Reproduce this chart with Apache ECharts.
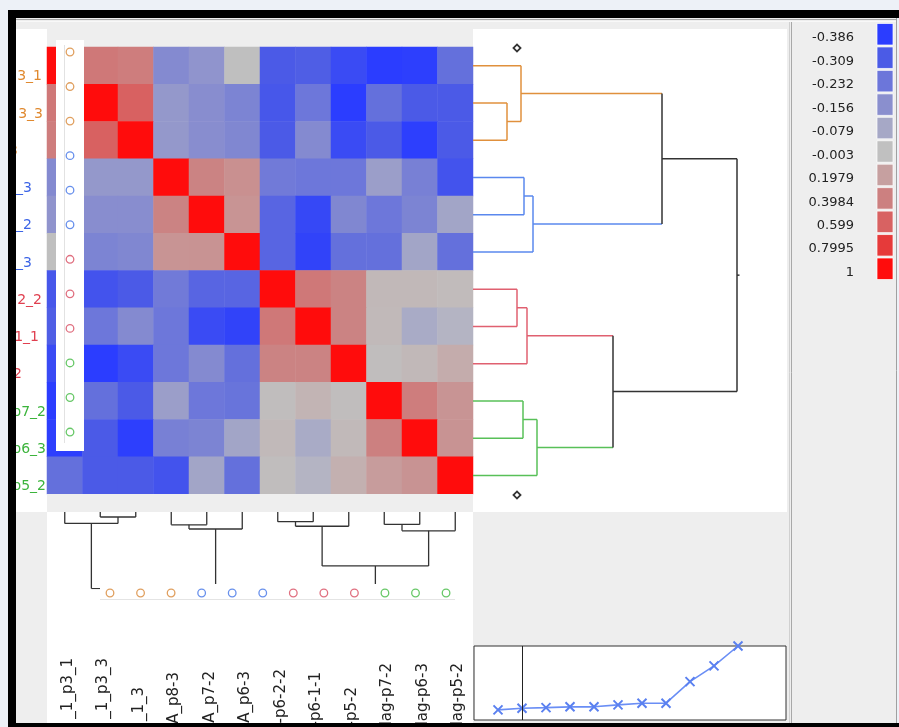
<!DOCTYPE html>
<html><head><meta charset="utf-8">
<script src="https://cdn.jsdelivr.net/npm/echarts@6/dist/echarts.min.js"></script>
<style>html,body{margin:0;padding:0;background:#edf1f7;overflow:hidden}#c{width:899px;height:727px}</style>
</head><body><div id="c"></div>
<script>
// ---- data ----
const rowLabels = ['3_1','3_3','3','_3','_2','_3','2_2','1_1','2','p7_2','p6_3','p5_2'];
const colLabels = ['_1_p3_1','_1_p3_3','_1_3','A_p8-3','A_p7-2','A_p6-3','-p6-2-2','-p6-1-1','-p5-2','lag-p7-2','lag-p6-3','lag-p5-2'];
const clusterOf = [0,0,0,1,1,1,2,2,2,3,3,3];
const corr = [
  [1, 0.45, 0.42, -0.17, -0.14, 0.0, -0.31, -0.30, -0.35, -0.386, -0.38, -0.25],
  [0.45, 1, 0.60, -0.13, -0.16, -0.19, -0.32, -0.23, -0.386, -0.25, -0.31, -0.31],
  [0.42, 0.60, 1, -0.13, -0.16, -0.18, -0.31, -0.17, -0.35, -0.31, -0.38, -0.31],
  [-0.17, -0.13, -0.13, 1, 0.38, 0.30, -0.22, -0.23, -0.23, -0.11, -0.20, -0.33],
  [-0.14, -0.16, -0.16, 0.38, 1, 0.27, -0.28, -0.36, -0.18, -0.23, -0.19, -0.09],
  [0.0, -0.19, -0.18, 0.27, 0.28, 1, -0.28, -0.37, -0.25, -0.25, -0.09, -0.25],
  [-0.32, -0.33, -0.31, -0.22, -0.28, -0.28, 1, 0.45, 0.38, 0.05, 0.05, 0.03],
  [-0.30, -0.23, -0.17, -0.23, -0.35, -0.37, 0.45, 1, 0.38, 0.04, -0.07, -0.04],
  [-0.35, -0.386, -0.35, -0.23, -0.17, -0.25, 0.38, 0.38, 1, 0.02, 0.05, 0.12],
  [-0.386, -0.25, -0.31, -0.11, -0.23, -0.24, 0.02, 0.07, 0.02, 1, 0.42, 0.27],
  [-0.38, -0.31, -0.38, -0.20, -0.19, -0.09, 0.04, -0.07, 0.04, 0.40, 1, 0.28],
  [-0.25, -0.31, -0.31, -0.33, -0.09, -0.25, 0.02, -0.04, 0.10, 0.22, 0.28, 1]
];
// merges: [childA, childB, height]; nodes 0-11 leaves, 12+ merges in order
const merges = [[1,2,0.34],[6,7,0.44],[0,12,0.48],[9,10,0.50],[3,4,0.51],[13,8,0.54],[16,5,0.60],[15,11,0.64],[17,19,1.40],[14,18,1.89],[21,20,2.64]];
const lineValues = [0.36, 0.42, 0.44, 0.47, 0.47, 0.54, 0.60, 0.60, 1.37, 1.93, 2.64];
const legendValues = [-0.386, -0.309, -0.232, -0.156, -0.079, -0.003, 0.1979, 0.3984, 0.599, 0.7995, 1];

// ---- styles ----
const legendColors = ['#2b3dff','#4b5be6','#6c76da','#8a8fce','#a6a8c6','#c0c0c0','#c6a0a0','#cc8080','#d86262','#e63a3a','#ff0c0c'];
const dendroPalette = ['#e0903c','#5a88ee','#e06070','#58c058','#333333'];
const circleColors = ['#e0a060','#6890ec','#e07080','#68c868'];
const labelColors = ['#e0892f','#3c64e6','#e04050','#3cb43c'];
const rowLabelRight = [42, 43, 18, 32, 32, 32, 42, 39, 22, 46, 46, 46];
const colLabelTop = [658, 658, 687, 672, 671, 671, 669, 672, 687, 663, 663, 663];
const FONT_LEG = '13px "DejaVu Sans"';
const FONT_ROW = '14px "DejaVu Sans"';
const FONT_COL = '15px "DejaVu Sans"';

// color ramp sampled from legend stops
function hex2rgb(h){return [1,3,5].map(i=>parseInt(h.substr(i,2),16));}
function rampColor(v){
  for(let i=0;i<legendValues.length-1;i++){
    if(v<=legendValues[i+1]){
      const t=Math.max(0,(v-legendValues[i])/(legendValues[i+1]-legendValues[i]));
      const a=hex2rgb(legendColors[i]), b=hex2rgb(legendColors[i+1]);
      return 'rgb('+a.map((c,k)=>Math.round(c+(b[k]-c)*t)).join(',')+')';
    }
  }
  return legendColors[legendColors.length-1];
}
const vmin = legendValues[0], vmax = legendValues[legendValues.length-1];
const ramp = [];
for(let k=0;k<=80;k++) ramp.push(rampColor(vmin+(vmax-vmin)*k/80));

// heatmap data
const heatData = [];
corr.forEach((row,r)=>row.forEach((v,c)=>heatData.push([c,r,v])));

// dendrogram nodes
const nodes = clusterOf.map((cl,i)=>({pos:i,h:0,cl:cl}));
merges.forEach(([a,b,h])=>{const A=nodes[a],B=nodes[b];nodes.push({pos:(A.pos+B.pos)/2,h:h,cl:A.cl===B.cl?A.cl:4});});
const dendroData = merges.map(([a,b,h],k)=>[nodes[a].pos,nodes[b].pos,nodes[a].h,nodes[b].h,h,nodes[a].cl,nodes[b].cl,nodes[12+k].cl]);

function dendroRender(horizontal, colored, lw){
  return function(params, api){
    const pt = (h,p)=> horizontal ? api.coord([h,p]) : api.coord([p,h]);
    const pA=api.value(0), pB=api.value(1), hA=api.value(2), hB=api.value(3), h=api.value(4);
    const col = i => colored ? dendroPalette[api.value(i)] : '#333';
    const ch = [
      {type:'polyline', shape:{points:[pt(hA,pA),pt(h,pA)]}, style:{stroke:col(5),lineWidth:lw,fill:null}},
      {type:'polyline', shape:{points:[pt(hB,pB),pt(h,pB)]}, style:{stroke:col(6),lineWidth:lw,fill:null}},
      {type:'polyline', shape:{points:[pt(h,pA),pt(h,pB)]}, style:{stroke:col(7),lineWidth:lw,fill:null}}
    ];
    if(horizontal && params.dataIndex===merges.length-1){
      const mid=(pA+pB)/2;
      ch.push({type:'polyline', shape:{points:[pt(h,mid),pt(h+0.025,mid)]}, style:{stroke:'#333',lineWidth:lw,fill:null}});
    }
    return {type:'group', children:ch};
  };
}

// graphics
const G = [];
G.push({type:'rect', z:-30, shape:{x:16,y:18,width:880,height:705}, style:{fill:'#eeeeee'}});
G.push({type:'line', z:-29, shape:{x1:16,y1:19.5,x2:896,y2:19.5}, style:{stroke:'#a8a8a8',lineWidth:1}});
G.push({type:'line', z:-29, shape:{x1:16,y1:21.5,x2:896,y2:21.5}, style:{stroke:'#f8f8f8',lineWidth:1}});
G.push({type:'line', z:-29, shape:{x1:896.5,y1:18,x2:896.5,y2:723}, style:{stroke:'#a0a0a0',lineWidth:1}});
G.push({type:'line', z:-29, shape:{x1:789.5,y1:22,x2:789.5,y2:723}, style:{stroke:'#d0d0d0',lineWidth:1}});
G.push({type:'line', z:-29, shape:{x1:791.5,y1:22,x2:791.5,y2:723}, style:{stroke:'#a8a8a8',lineWidth:1}});
G.push({type:'rect', z:-20, shape:{x:16,y:29,width:31,height:483}, style:{fill:'#ffffff'}});
G.push({type:'rect', z:-20, shape:{x:473,y:29,width:314,height:483}, style:{fill:'#ffffff'}});
G.push({type:'rect', z:-20, shape:{x:47,y:512,width:426,height:211}, style:{fill:'#ffffff'}});
// gray strip under heatmap
G.push({type:'rect', z:40, shape:{x:47,y:494,width:426,height:18}, style:{fill:'#eeeeee'}});
// row circle panel
G.push({type:'rect', z:40, shape:{x:56,y:40,width:28,height:411}, style:{fill:'#ffffff'}});
G.push({type:'line', z:41, shape:{x1:64.5,y1:45,x2:64.5,y2:443}, style:{stroke:'#e2e2e2',lineWidth:1}});
clusterOf.forEach((cl,i)=>G.push({type:'circle', z:42, shape:{cx:70,cy:52+34.55*i,r:3.8}, style:{fill:null,stroke:circleColors[cl],lineWidth:1.3}}));
// column circle panel
G.push({type:'rect', z:40, shape:{x:100,y:584,width:356,height:16}, style:{fill:'#ffffff'}});
G.push({type:'line', z:41, shape:{x1:100,y1:599.5,x2:455,y2:599.5}, style:{stroke:'#e4e4e4',lineWidth:1}});
clusterOf.forEach((cl,i)=>G.push({type:'circle', z:42, shape:{cx:110+30.55*i,cy:593,r:3.8}, style:{fill:null,stroke:circleColors[cl],lineWidth:1.3}}));
// diamonds
[48,495].forEach(y=>G.push({type:'rect', z:42, x:517, y:y, rotation:Math.PI/4, shape:{x:-2.5,y:-2.5,width:5,height:5}, style:{fill:'#fff',stroke:'#333',lineWidth:1.8}}));
// row labels
rowLabels.forEach((t,i)=>G.push({type:'text', z:30, x:rowLabelRight[i], y:47+37.25*(i+0.5)+11, style:{text:t, align:'right', verticalAlign:'middle', font:FONT_ROW, fill:labelColors[clusterOf[i]]}}));
// column labels
colLabels.forEach((t,i)=>G.push({type:'text', z:30, x:47+35.5*(i+0.5)+3, y:colLabelTop[i], rotation:Math.PI/2, style:{text:t, align:'right', verticalAlign:'middle', font:FONT_COL, fill:'#222'}}));
// legend
legendValues.forEach((v,i)=>{
  const top = 23.5+23.45*i;
  G.push({type:'rect', z:30, shape:{x:877,y:top,width:16,height:21.5}, style:{fill:legendColors[i],stroke:'rgba(255,255,255,0.7)',lineWidth:1}});
  G.push({type:'text', z:30, x:854, y:top+14.5, style:{text:String(v), align:'right', verticalAlign:'middle', font:FONT_LEG, fill:'#222'}});
});
// black frame
G.push({type:'rect', z:60, shape:{x:8,y:10,width:891,height:8}, style:{fill:'#000'}});
G.push({type:'rect', z:60, shape:{x:8,y:10,width:8,height:717}, style:{fill:'#000'}});
G.push({type:'rect', z:60, shape:{x:8,y:723,width:891,height:4}, style:{fill:'#000'}});
G.push({type:'rect', z:60, shape:{x:0,y:0,width:8,height:727}, style:{fill:'#edf1f7'}});

const option = {
  animation:false,
  graphic:{elements:G},
  grid:[
    {left:47, top:47, width:426, height:447},
    {left:473, top:47, width:314, height:447},
    {left:47, top:501.3, width:426, height:88},
    {left:474, top:646, width:312, height:74, show:true, borderColor:'#333', borderWidth:1, backgroundColor:'#fff'}
  ],
  xAxis:[
    {type:'category', gridIndex:0, data:colLabels, show:false},
    {type:'value', gridIndex:1, min:0, max:3.14, show:false},
    {type:'value', gridIndex:2, min:-0.5, max:11.5, show:false},
    {type:'value', gridIndex:3, min:-1, max:12, show:false}
  ],
  yAxis:[
    {type:'category', gridIndex:0, data:rowLabels, inverse:true, show:false},
    {type:'value', gridIndex:1, min:-0.5, max:11.5, inverse:true, show:false},
    {type:'value', gridIndex:2, min:0, max:1.905, inverse:true, show:false},
    {type:'value', gridIndex:3, min:0, max:2.64, show:false}
  ],
  visualMap:{type:'continuous', show:false, seriesIndex:0, min:vmin, max:vmax, inRange:{color:ramp}},
  series:[
    {type:'heatmap', xAxisIndex:0, yAxisIndex:0, data:heatData, progressive:0, emphasis:{disabled:true}, itemStyle:{borderWidth:0}},
    {type:'custom', xAxisIndex:1, yAxisIndex:1, data:dendroData, renderItem:dendroRender(true,true,1.5), clip:true, silent:true},
    {type:'custom', xAxisIndex:2, yAxisIndex:2, data:dendroData, renderItem:dendroRender(false,false,1.3), clip:true, silent:true},
    {type:'line', xAxisIndex:3, yAxisIndex:3, data:lineValues.map((v,i)=>[i,v]), silent:true,
      symbol:'path://M0,0L10,10M10,0L0,10', symbolSize:9,
      lineStyle:{color:'#6a8ef5',width:1.6},
      itemStyle:{color:'#5a80f0',borderColor:'#5a80f0',borderWidth:2},
      markLine:{silent:true, symbol:'none', label:{show:false}, lineStyle:{color:'#222',width:1,type:'solid'}, data:[{xAxis:1}]}
    }
  ]
};
const chart = echarts.init(document.getElementById('c'), null, {renderer:'canvas'});
chart.setOption(option);
</script></body></html>
